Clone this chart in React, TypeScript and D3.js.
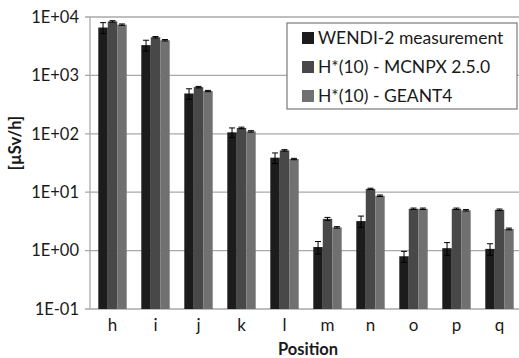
import React from "react";
import * as d3 from "d3";

// positions along the beam line
const positions = ["h", "i", "j", "k", "l", "m", "n", "o", "p", "q"];

// dose rate values [µSv/h]
const wendi = [6600, 3300, 490, 106, 39, 1.15, 3.2, 0.8, 1.1, 1.07];
const wendiErr = [1400, 700, 100, 20, 8, 0.28, 0.7, 0.17, 0.27, 0.24];
const mcnpx = [8400, 4500, 630, 126, 52, 3.5, 11.4, 5.2, 5.2, 5.0];
const mcnpxErr = [250, 130, 18, 4, 1.5, 0.2, 0.3, 0.15, 0.15, 0.15];
const geant = [7400, 4000, 540, 110, 37, 2.5, 8.7, 5.2, 4.9, 2.35];
const geantErr = [200, 110, 14, 3, 1, 0.07, 0.25, 0.15, 0.14, 0.08];

const yTicks = [1e-1, 1e0, 1e1, 1e2, 1e3, 1e4];
const tickLabels = ["1E-01", "1E+00", "1E+01", "1E+02", "1E+03", "1E+04"];

const seriesNames = ["WENDI-2 measurement", "H*(10) - MCNPX 2.5.0", "H*(10) - GEANT4"];
const colors = ["#1c1c1c", "#484848", "#707070"];

const W = 519;
const H = 358;
const font = "Lato, 'Open Sans', sans-serif";

export default function App() {
  const x = d3.scaleBand<string>().domain(positions).range([91, 521]).paddingInner(0).paddingOuter(0);
  const y = d3.scaleLog().domain([0.1, 10000]).range([309, 17]);
  const groupW = 28.4;
  const barW = groupW / 3;
  const series = [
    { vals: wendi, errs: wendiErr },
    { vals: mcnpx, errs: mcnpxErr },
    { vals: geant, errs: geantErr },
  ];

  return (
    <svg width={W} height={H} style={{ position: "absolute", left: 0, top: 0, background: "#fff" }}>
      {/* gridlines */}
      {yTicks.map((t, i) => (
        <g key={t}>
          <line x1={85} x2={W} y1={y(t)} y2={y(t)} stroke="#a9a9a9" strokeWidth={1.3} />
          <text x={79} y={y(t)} dy="0.35em" textAnchor="end" fontFamily={font} fontSize={16.5} fill="#1a1a1a">
            {tickLabels[i]}
          </text>
        </g>
      ))}
      <line x1={90} x2={90} y1={y(1e4)} y2={y(0.1)} stroke="#a9a9a9" strokeWidth={1.3} />

      {/* bars */}
      {positions.map((p, pi) => {
        const x0 = (x(p) ?? 0) + x.bandwidth() / 2 - groupW / 2;
        return (
          <g key={p}>
            {series.map((s, si) => {
              const bx = x0 + si * barW;
              const v = s.vals[pi];
              const e = s.errs[pi];
              const cx = bx + barW / 2;
              return (
                <g key={si}>
                  <rect x={bx} y={y(v)} width={barW} height={y(0.1) - y(v)} fill={colors[si]} />
                  <line x1={cx} x2={cx} y1={y(v + e)} y2={y(v - e)} stroke="#000" strokeWidth={1} />
                  <line x1={cx - 3} x2={cx + 3} y1={y(v + e)} y2={y(v + e)} stroke="#000" strokeWidth={1} />
                  <line x1={cx - 3} x2={cx + 3} y1={y(v - e)} y2={y(v - e)} stroke="#000" strokeWidth={1} />
                </g>
              );
            })}
            <text x={(x(p) ?? 0) + x.bandwidth() / 2} y={331} textAnchor="middle" fontFamily={font} fontSize={17} fill="#1a1a1a">
              {p}
            </text>
          </g>
        );
      })}

      {/* axis titles */}
      <text
        transform={`translate(21,143) rotate(-90)`}
        textAnchor="middle"
        fontFamily={font}
        fontSize={16.5}
        fontWeight="bold"
        fill="#1a1a1a"
      >
        [µSv/h]
      </text>
      <text x={308} y={355} textAnchor="middle" fontFamily={font} fontSize={16.5} fontWeight="bold" fill="#1a1a1a">
        Position
      </text>

      {/* legend */}
      <rect x={287} y={23} width={230} height={86} fill="#fff" stroke="#7a7a7a" strokeWidth={1.2} />
      {seriesNames.map((n, i) => (
        <g key={n} transform={`translate(302,${38 + i * 29})`}>
          <rect x={0} y={-6} width={12} height={12} fill={colors[i]} />
          <text x={16} y={0} dy="0.35em" fontFamily={font} fontSize={17.5} fill="#1a1a1a">
            {n}
          </text>
        </g>
      ))}
    </svg>
  );
}
